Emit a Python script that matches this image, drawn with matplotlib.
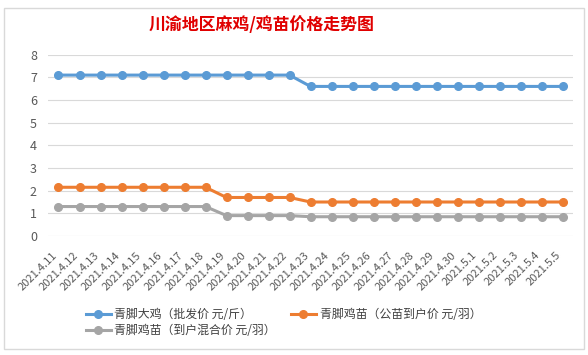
import matplotlib.pyplot as plt
import matplotlib.transforms as mtransforms
from matplotlib.patches import Rectangle

plt.rcParams['font.family'] = ['Noto Sans CJK SC', 'DejaVu Sans']

dates = ['2021.4.11', '2021.4.12', '2021.4.13', '2021.4.14', '2021.4.15', '2021.4.16',
         '2021.4.17', '2021.4.18', '2021.4.19', '2021.4.20', '2021.4.21', '2021.4.22',
         '2021.4.23', '2021.4.24', '2021.4.25', '2021.4.26', '2021.4.27', '2021.4.28',
         '2021.4.29', '2021.4.30', '2021.5.1', '2021.5.2', '2021.5.3', '2021.5.4', '2021.5.5']
big_chicken = [7.1] * 12 + [6.6] * 13
chick_male = [2.15] * 8 + [1.7] * 4 + [1.5] * 13
chick_mixed = [1.3] * 8 + [0.9] * 4 + [0.85] * 13

labels = ['青脚大鸡（批发价 元/斤）', '青脚鸡苗（公苗到户价 元/羽）', '青脚鸡苗（到户混合价 元/羽）']
colors = ['#5B9BD5', '#ED7D31', '#A5A5A5']

fig = plt.figure(figsize=(5.88, 3.55), dpi=100)
fig.patches.append(Rectangle((4 / 588, 6 / 355), 580 / 588, 341 / 355, transform=fig.transFigure,
                             fill=False, edgecolor='#D9D9D9', linewidth=1))
ax = fig.add_axes([48 / 588, 1 - 236 / 355, 525 / 588, (236 - 54.7) / 355])

x = range(len(dates))
lines = []
for vals, c, lab in zip([big_chicken, chick_male, chick_mixed], colors, labels):
    ln, = ax.plot(x, vals, color=c, linewidth=2.2, marker='o', markersize=5.5, label=lab)
    lines.append(ln)

ax.set_xlim(-0.5, len(dates) - 0.5)
ax.set_ylim(0, 8)
ax.set_yticks(range(0, 9))
ax.grid(axis='y', color='#D9D9D9', linewidth=0.8)
ax.set_axisbelow(True)
for s in ax.spines.values():
    s.set_visible(False)
ax.tick_params(length=0, colors='#595959')
ax.tick_params(axis='y', labelsize=9, pad=8)
ax.set_xticks(list(x))
ax.set_xticklabels(dates, rotation=45, ha='right', rotation_mode='anchor', fontsize=8)
offset = mtransforms.ScaledTranslation(-7 / 100, -9 / 100, fig.dpi_scale_trans)
for t in ax.get_xticklabels():
    t.set_transform(t.get_transform() + offset)

fig.text(0.444, 0.93, '川渝地区麻鸡/鸡苗价格走势图', ha='center', va='center',
         fontsize=12.2, fontweight='bold', color='#E00000')

leg = fig.legend([lines[0], lines[2], lines[1]], [labels[0], labels[2], labels[1]],
                 ncol=2, loc='center', bbox_to_anchor=(0.482, 0.091), frameon=False,
                 fontsize=8.6, handlelength=2.1, columnspacing=1.25, labelspacing=0.25,
                 handletextpad=0.3)
for t in leg.get_texts():
    t.set_color('#404040')

fig.savefig('out.png', dpi=100)
